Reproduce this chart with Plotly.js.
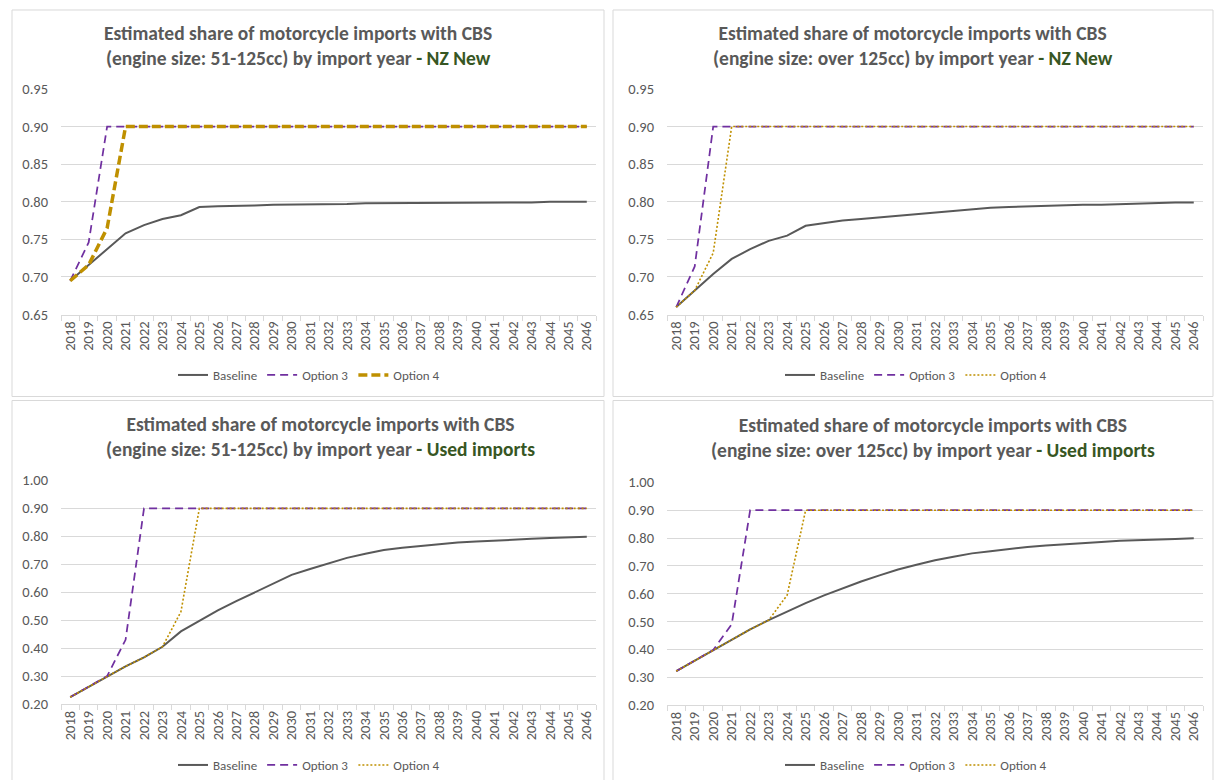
<!DOCTYPE html>
<html><head><meta charset="utf-8">
<script src="https://cdn.plot.ly/plotly-3.0.1.min.js"></script>
<style>html,body{margin:0;padding:0;background:#fff}#chart{width:1215px;height:780px}</style>
</head><body><div id="chart"></div>
<script>
// ---- Data ----
const years = ['2018','2019','2020','2021','2022','2023','2024','2025','2026','2027','2028','2029','2030','2031','2032','2033','2034','2035','2036','2037','2038','2039','2040','2041','2042','2043','2044','2045','2046'];
const seriesNames = ['Baseline', 'Option 3', 'Option 4'];

// Panel 1: 51-125cc, NZ New
const nzNew51Baseline = [0.695,0.716,0.736,0.758,0.769,0.777,0.782,0.793,0.794,0.794,0.795,0.796,0.796,0.797,0.797,0.797,0.798,0.798,0.798,0.799,0.799,0.799,0.799,0.799,0.799,0.799,0.800,0.800,0.800];
const nzNew51Option3  = [0.695,0.746,0.900,0.900,0.900,0.900,0.900,0.900,0.900,0.900,0.900,0.900,0.900,0.900,0.900,0.900,0.900,0.900,0.900,0.900,0.900,0.900,0.900,0.900,0.900,0.900,0.900,0.900,0.900];
const nzNew51Option4  = [0.695,0.716,0.765,0.900,0.900,0.900,0.900,0.900,0.900,0.900,0.900,0.900,0.900,0.900,0.900,0.900,0.900,0.900,0.900,0.900,0.900,0.900,0.900,0.900,0.900,0.900,0.900,0.900,0.900];

// Panel 2: over 125cc, NZ New
const nzNew125Baseline = [0.660,0.682,0.704,0.724,0.737,0.748,0.755,0.768,0.771,0.775,0.777,0.779,0.782,0.784,0.786,0.788,0.790,0.792,0.793,0.794,0.794,0.795,0.796,0.796,0.797,0.798,0.798,0.799,0.799];
const nzNew125Option3  = [0.660,0.714,0.900,0.900,0.900,0.900,0.900,0.900,0.900,0.900,0.900,0.900,0.900,0.900,0.900,0.900,0.900,0.900,0.900,0.900,0.900,0.900,0.900,0.900,0.900,0.900,0.900,0.900,0.900];
const nzNew125Option4  = [0.660,0.682,0.732,0.900,0.900,0.900,0.900,0.900,0.900,0.900,0.900,0.900,0.900,0.900,0.900,0.900,0.900,0.900,0.900,0.900,0.900,0.900,0.900,0.900,0.900,0.900,0.900,0.900,0.900];

// Panel 3: 51-125cc, Used imports
const used51Baseline = [0.225,0.262,0.300,0.335,0.367,0.405,0.460,0.497,0.535,0.568,0.600,0.632,0.662,0.683,0.703,0.723,0.738,0.751,0.759,0.766,0.771,0.778,0.781,0.785,0.788,0.791,0.794,0.795,0.798];
const used51Option3  = [0.225,0.262,0.300,0.430,0.900,0.900,0.900,0.900,0.900,0.900,0.900,0.900,0.900,0.900,0.900,0.900,0.900,0.900,0.900,0.900,0.900,0.900,0.900,0.900,0.900,0.900,0.900,0.900,0.900];
const used51Option4  = [0.225,0.262,0.300,0.335,0.367,0.405,0.530,0.900,0.900,0.900,0.900,0.900,0.900,0.900,0.900,0.900,0.900,0.900,0.900,0.900,0.900,0.900,0.900,0.900,0.900,0.900,0.900,0.900,0.900];

// Panel 4: over 125cc, Used imports
const used125Baseline = [0.322,0.360,0.398,0.437,0.472,0.505,0.537,0.566,0.594,0.620,0.644,0.666,0.687,0.704,0.720,0.733,0.745,0.753,0.761,0.768,0.773,0.778,0.783,0.786,0.790,0.793,0.796,0.797,0.799];
const used125Option3  = [0.322,0.360,0.398,0.490,0.900,0.900,0.900,0.900,0.900,0.900,0.900,0.900,0.900,0.900,0.900,0.900,0.900,0.900,0.900,0.900,0.900,0.900,0.900,0.900,0.900,0.900,0.900,0.900,0.900];
const used125Option4  = [0.322,0.360,0.398,0.437,0.472,0.505,0.595,0.900,0.900,0.900,0.900,0.900,0.900,0.900,0.900,0.900,0.900,0.900,0.900,0.900,0.900,0.900,0.900,0.900,0.900,0.900,0.900,0.900,0.900];

const titleLine1 = 'Estimated share of motorcycle imports with CBS';
const panelTitles = [
  ['(engine size: 51-125cc) by import year', '- NZ New'],
  ['(engine size: over 125cc) by import year', '- NZ New'],
  ['(engine size: 51-125cc) by import year', '- Used imports'],
  ['(engine size: over 125cc) by import year', '- Used imports']
];

// ---- Styling ----
const FONT = 'Carlito, Lato, "Open Sans", sans-serif';
const GRAY = '#595959';
const GRID = '#D9D9D9';
const PURPLE = '#7030A0';
const GOLD = '#BF9000';
const W = 1215, H = 780;
const px = v => v / W;
const py = v => 1 - v / H;

const panels = [
  {data:[nzNew51Baseline, nzNew51Option3, nzNew51Option4], thickOpt4:true,
   xd:[61,596], yd:[315,89], range:[0.65,0.95], dtick:0.05,
   titleX:298, titleY:46, legX:309, legY:375, box:[12,10,604,397]},
  {data:[nzNew125Baseline, nzNew125Option3, nzNew125Option4], thickOpt4:false,
   xd:[667,1203], yd:[315,89], range:[0.65,0.95], dtick:0.05,
   titleX:913, titleY:46, legX:916, legY:375, box:[613,10,1213,397]},
  {data:[used51Baseline, used51Option3, used51Option4], thickOpt4:false,
   xd:[61,596], yd:[705,481], range:[0.2,1.0], dtick:0.1,
   titleX:320, titleY:437, legX:309, legY:766, box:[12,401,604,782]},
  {data:[used125Baseline, used125Option3, used125Option4], thickOpt4:false,
   xd:[667,1203], yd:[706,483], range:[0.2,1.0], dtick:0.1,
   titleX:933, titleY:438, legX:916, legY:766, box:[613,401,1213,782]}
];

const traces = [];
const layout = {
  width: W, height: H,
  margin: {l:0, r:0, t:0, b:0},
  paper_bgcolor: '#ffffff', plot_bgcolor: '#ffffff',
  font: {family: FONT, color: GRAY, size: 14.5},
  annotations: [], shapes: [], showlegend: true
};

panels.forEach((p, i) => {
  const n = i === 0 ? '' : String(i + 1);
  const xa = 'x' + n, ya = 'y' + n, lg = 'legend' + n;
  const styles = [
    {color: GRAY, width: 2, dash: 'solid'},
    {color: PURPLE, width: 1.75, dash: '8px,5px'},
    p.thickOpt4 ? {color: GOLD, width: 3.5, dash: '9px,4px'} : {color: GOLD, width: 1.6, dash: '2px,2px'}
  ];
  p.data.forEach((vals, k) => {
    traces.push({
      type: 'scatter', mode: 'lines', x: years, y: vals, name: seriesNames[k],
      xaxis: xa, yaxis: ya, legend: lg, line: styles[k], hoverinfo: 'skip'
    });
  });
  layout['xaxis' + n] = {
    domain: [px(p.xd[0]), px(p.xd[1])], anchor: ya, type: 'category',
    range: [-0.5, 28.5], showgrid: false, showline: true, linecolor: GRID, linewidth: 1,
    ticks: 'outside', tickson: 'boundaries', ticklen: 5, tickcolor: GRID, tickangle: -90,
    tickfont: {family: FONT, size: 14.5, color: GRAY}, zeroline: false, fixedrange: true
  };
  layout['yaxis' + n] = {
    domain: [py(p.yd[0]), py(p.yd[1])], anchor: xa, range: p.range, dtick: p.dtick,
    tick0: 0, tickformat: '.2f', showgrid: true, gridcolor: GRID, gridwidth: 1,
    showline: false, zeroline: false, ticks: '', ticklabelstandoff: 12,
    tickfont: {family: FONT, size: 14.5, color: GRAY}, fixedrange: true
  };
  layout[lg] = {
    orientation: 'h', x: px(p.legX), xanchor: 'center', y: py(p.legY), yanchor: 'middle',
    font: {family: FONT, size: 13, color: GRAY}, bgcolor: 'rgba(0,0,0,0)', itemwidth: 30,
    itemclick: false, itemdoubleclick: false
  };
  layout.annotations.push({
    xref: 'paper', yref: 'paper', x: px(p.titleX), y: py(p.titleY), xanchor: 'center', yanchor: 'middle',
    showarrow: false, align: 'center',
    font: {family: FONT, size: 19.5, color: GRAY},
    text: '<b>' + titleLine1 + '<br>' + panelTitles[i][0] + ' <span style="color:#375623">' + panelTitles[i][1] + '</span></b>'
  });
  layout.shapes.push({
    type: 'rect', xref: 'paper', yref: 'paper', layer: 'below',
    x0: px(p.box[0]), x1: px(p.box[2]), y0: py(p.box[3]), y1: py(p.box[1]),
    line: {color: GRID, width: 1}, fillcolor: 'rgba(0,0,0,0)'
  });
});

Plotly.newPlot('chart', traces, layout, {displayModeBar: false, staticPlot: true});
</script></body></html>
